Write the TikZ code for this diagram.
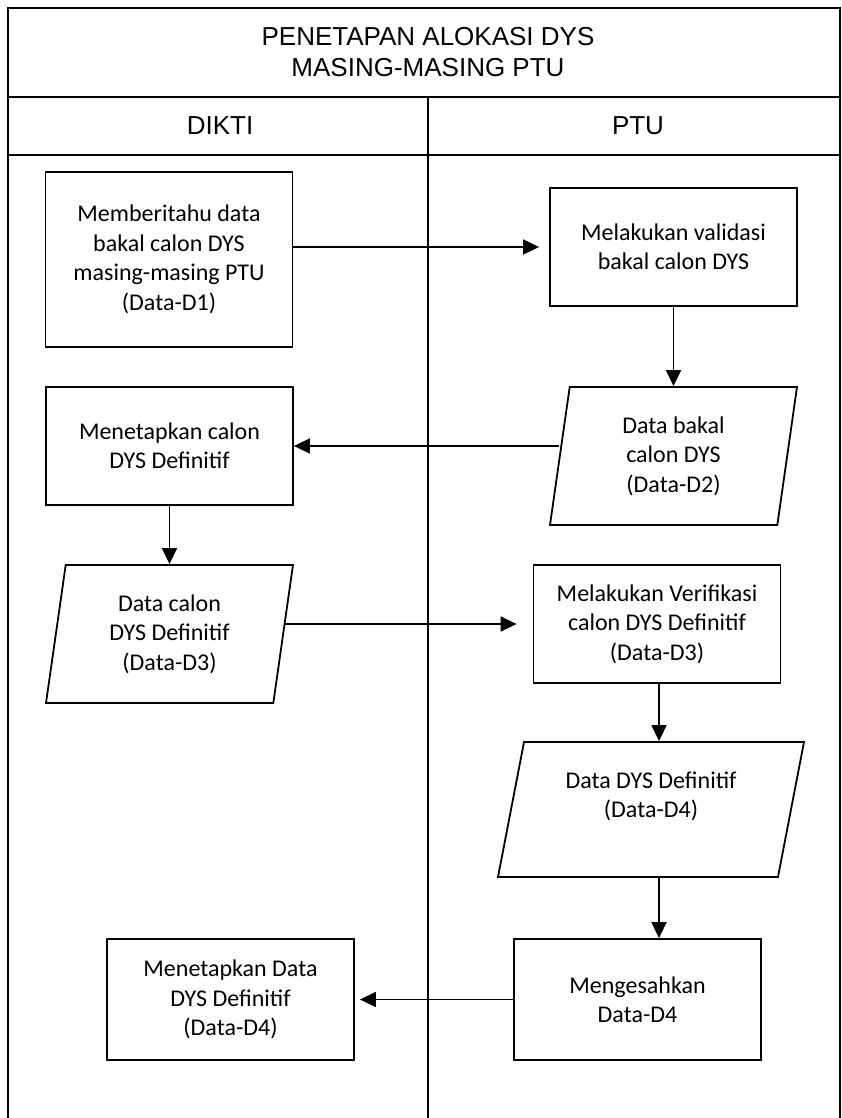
\documentclass[tikz,border=0pt]{standalone}
\usepackage{fontspec}
\setmainfont{Carlito}
\newfontfamily\headfont{Liberation Sans}
\usetikzlibrary{arrows.meta,shapes.geometric,positioning}
\tikzset{%
	process/.style  = {draw, rectangle, line width=1.8pt, minimum width=247pt, minimum height=118pt, inner sep=0pt, align=center, font=\fontsize{24}{29.5}\selectfont},
	dataio/.style   = {draw, trapezium, line width=1.8pt, trapezium left angle=76, trapezium right angle=104, trapezium stretches body, minimum width=247pt, minimum height=138pt, inner sep=0pt, align=center, font=\fontsize{24}{29.5}\selectfont},
	heading/.style  = {align=center, font=\headfont\fontsize{26}{31.5}\selectfont},
	lane/.style     = {line width=2pt},
	arrow/.style    = {line width=1.6pt, -{Triangle[length=16pt,width=15pt]}},
}
\begin{document}
\begin{tikzpicture}[x=1pt,y=-1pt,node distance=2.5cm]
	\useasboundingbox (0,0) rectangle (842,1118);
	% swimlane frame
	\draw[lane] (8,1118) -- (8,8) -- (840,8) -- (840,1118);
	\draw[lane] (8,97) -- (840,97);
	\draw[lane] (8,155) -- (840,155);
	\draw[line width=1.5pt] (428,97) -- (428,1118);
	\node [heading] (title) at (428,52) {PENETAPAN ALOKASI DYS\\MASING-MASING PTU};
	\node [heading] (dikti) at (220,126) {DIKTI};
	\node [heading] (ptu) at (638,126) {PTU};
	% DIKTI lane
	\node [process, minimum height=175pt] (beri) at (169,259.5) {Memberitahu data\\bakal calon DYS\\masing-masing PTU\\(Data-D1)};
	\node [process] (tetap) at (169.5,446) {Menetapkan calon\\DYS Definitif};
	\node [dataio] (dataDiii) [below of=tetap, node distance=188pt] {Data calon\\DYS Definitif\\(Data-D3)};
	\node [process, minimum height=121pt] (final) at (230.5,999.5) {Menetapkan Data\\DYS Definitif\\(Data-D4)};
	% PTU lane
	\node [process] (valid) at (673.5,247) {Melakukan validasi\\bakal calon DYS};
	\node [dataio] (dataDii) [below of=valid, node distance=209pt] {Data bakal\\calon DYS\\(Data-D2)};
	\node [process] (verif) at (657,624) {Melakukan Verifikasi\\calon DYS Definitif\\(Data-D3)};
	\node [dataio, trapezium left angle=71, trapezium right angle=109, minimum width=306pt, minimum height=135pt] (dataDiv) at (651,809.5) {Data DYS Definitif\\(Data-D4)\\\mbox{}};
	\node [process, minimum height=121pt] (sah) at (637.5,999.5) {Mengesahkan\\Data-D4};
	% connectors
	\draw[arrow, shorten >=10pt] (beri.east |- valid.west) -- (valid.west);
	\draw[arrow] (valid) -- (dataDii);
	\draw[arrow] (dataDii.west |- tetap.east) -- (tetap.east);
	\draw[arrow] (tetap) -- (dataDiii);
	\draw[arrow, shorten >=16pt] (dataDiii.east |- verif.west) -- (verif.west);
	\draw[arrow] ([xshift=2pt]verif.south) -- ([xshift=2pt]verif.south |- dataDiv.north);
	\draw[arrow] ([xshift=2pt]verif.south |- dataDiv.south) -- ([xshift=2pt]verif.south |- sah.north);
	\draw[arrow, shorten >=5pt] (sah.west) -- (final.east);
\end{tikzpicture}
\end{document}
